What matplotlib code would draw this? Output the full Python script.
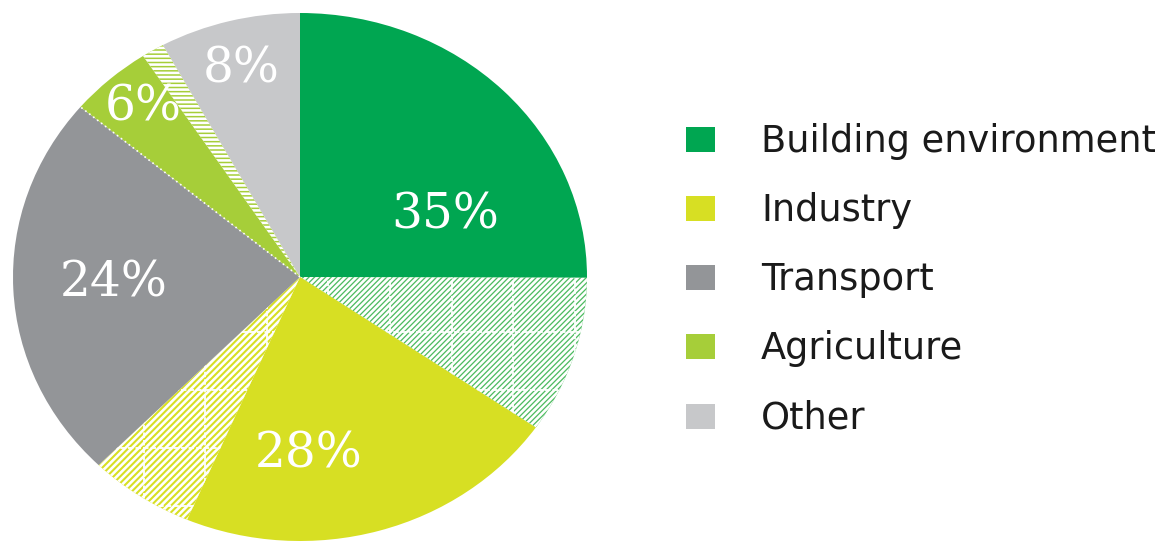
import numpy as np
import matplotlib
matplotlib.use("Agg")
import matplotlib.pyplot as plt
from matplotlib.patches import Rectangle

# Emission shares by sector (percent) and the hatched sub-portion of each slice
categories = ["Building environment", "Industry", "Transport", "Agriculture", "Other"]
shares = [35, 28, 24, 6, 8]
hatched_part = [9.7, 6.0, 0.0, 1.3, 0.0]

colors = ["#00a651", "#d7df23", "#939598", "#a6ce39", "#c7c8ca"]
hatched_colors = ["#4dbb60", "#d7df23", None, "#a6ce39", None]
hatch_styles = ["//////", "/////", None, "----", None]

# label anchor points in pie coordinates (x centre, y baseline)
label_pos = [(0.505, 0.182), (0.031, -0.72), (-0.648, -0.072),
             (-0.547, 0.591), (-0.206, 0.735)]

plt.rcParams["hatch.linewidth"] = 1.9

W, H = 1163, 543
fig = plt.figure(figsize=(W / 100, H / 100), dpi=100)
fig.patch.set_facecolor("white")

# pie axes: centre (300, 277) px from top-left, radii 287 x 264 px
cx, cy, rx, ry = 300, 277, 287, 264
ax = fig.add_axes([(cx - rx) / W, (H - cy - ry) / H, 2 * rx / W, 2 * ry / H])

# split every slice into a solid part followed by its hatched part
values, faces, hatches, owner = [], [], [], []
for i, (s, h) in enumerate(zip(shares, hatched_part)):
    values.append(s - h)
    faces.append(colors[i])
    hatches.append(None)
    owner.append(i)
    if h > 0:
        values.append(h)
        faces.append(hatched_colors[i])
        hatches.append(hatch_styles[i])
        owner.append(i)

wedges, _ = ax.pie(values, colors=faces, startangle=90, counterclock=False,
                   radius=1, wedgeprops=dict(linewidth=0))
ax.set_aspect("auto")
ax.set_xlim(-1, 1)
ax.set_ylim(-1, 1)
ax.axis("off")

hatched_wedges = {}
for w, h, o in zip(wedges, hatches, owner):
    if h:
        w.set_hatch(h)
        w.set_edgecolor("white")
        w.set_linewidth(0)
        hatched_wedges[o] = w

# coarse dashed grid over the hatched parts of building and industry
grid_x = [0.099 + 0.2146 * k for k in range(-5, 5)]
grid_y = [0.012 - 0.22 * k for k in range(0, 6)]
for o in (0, 1):
    w = hatched_wedges[o]
    for gx in grid_x:
        ln, = ax.plot([gx, gx], [-1.1, 1.1], color="white", lw=1.3,
                      dashes=(3, 1.2), solid_capstyle="butt")
        ln.set_clip_path(w)
    for gy in grid_y:
        ln, = ax.plot([-1.1, 1.1], [gy, gy], color="white", lw=1.3,
                      dashes=(3, 1.2), solid_capstyle="butt")
        ln.set_clip_path(w)

# dotted seam between transport and agriculture
theta = np.deg2rad(90 - 360 * sum(shares[:3]) / sum(shares))
ax.plot([0, np.cos(theta)], [0, np.sin(theta)], color="white", lw=1.2,
        linestyle=(0, (1, 2)))

# percentage labels
for s, (lx, ly) in zip(shares, label_pos):
    ax.text(lx, ly, f"{s}%", ha="center", va="baseline", color="white",
            fontsize=35, family="DejaVu Serif")

# legend drawn in pixel coordinates
lax = fig.add_axes([0, 0, 1, 1])
lax.set_xlim(0, W)
lax.set_ylim(H, 0)
lax.axis("off")
row0, pitch = 139, 69.3
for i, (name, c) in enumerate(zip(categories, colors)):
    yc = row0 + i * pitch
    lax.add_patch(Rectangle((686, yc - 12.5), 29, 25, facecolor=c, edgecolor="none"))
    lax.text(761, yc + 12.5, name, ha="left", va="baseline", color="#1a1a1a",
             fontsize=26.5, family="DejaVu Sans")

fig.savefig("out.png", dpi=100, facecolor="white")
